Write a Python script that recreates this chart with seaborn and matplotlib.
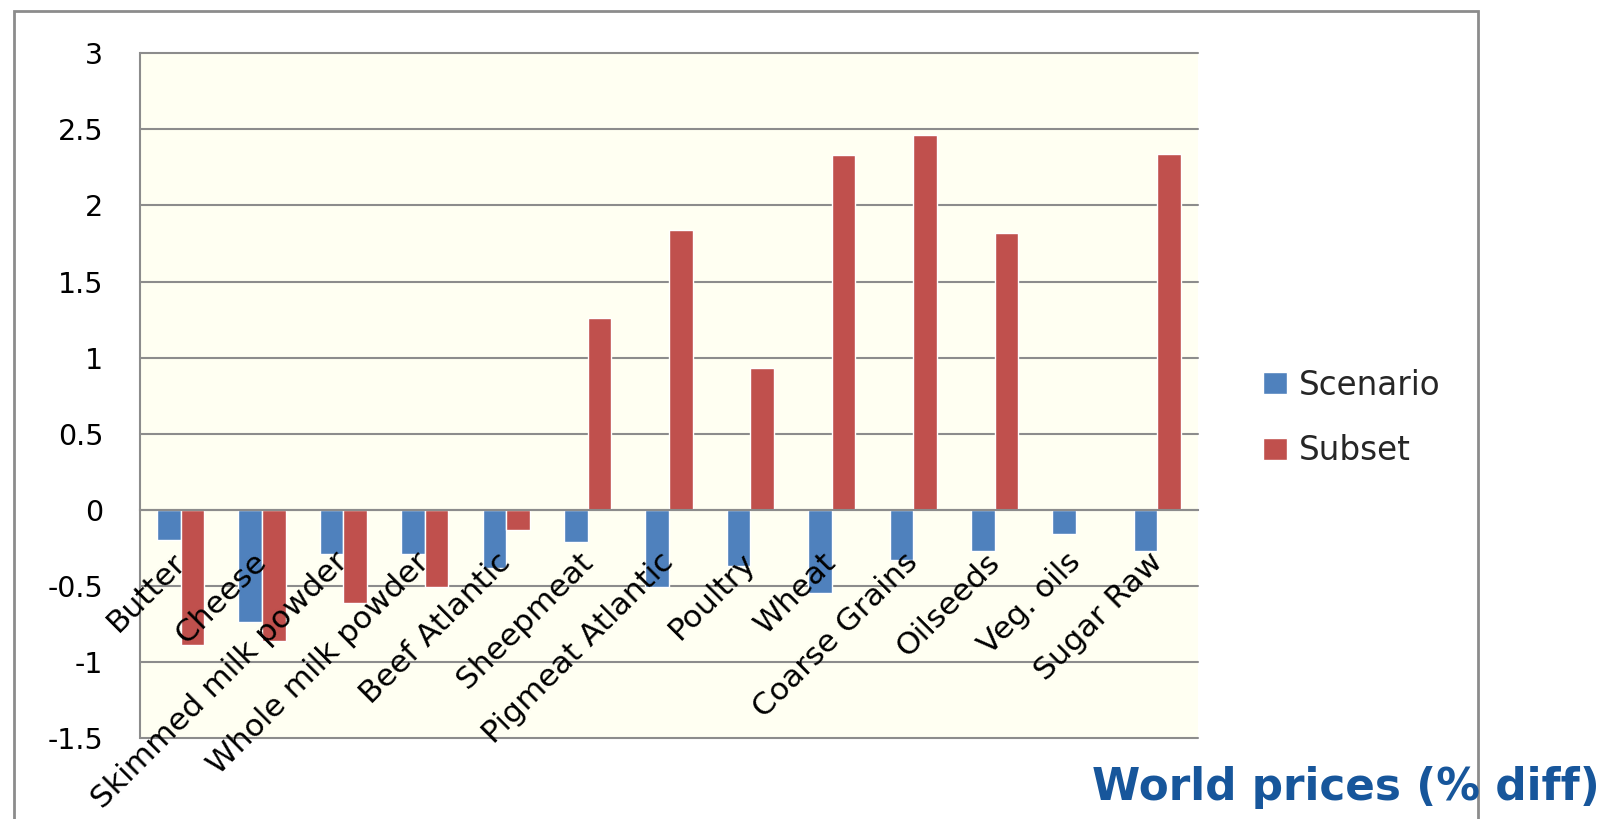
import numpy as np
import pandas as pd
import matplotlib
matplotlib.use("Agg")
import matplotlib.pyplot as plt
import seaborn as sns
from matplotlib.patches import Rectangle
from matplotlib.transforms import ScaledTranslation

# Commodities on the category axis
categories = ["Butter", "Cheese", "Skimmed milk powder", "Whole milk powder",
              "Beef Atlantic", "Sheepmeat", "Pigmeat Atlantic", "Poultry",
              "Wheat", "Coarse Grains", "Oilseeds", "Veg. oils", "Sugar Raw"]

# World price change (% diff) per series
scenario = [-0.20, -0.74, -0.29, -0.29, -0.38, -0.21, -0.51, -0.37,
            -0.55, -0.33, -0.27, -0.16, -0.27]
subset = [-0.89, -0.86, -0.61, -0.51, -0.13, 1.26, 1.84, 0.93,
          2.33, 2.46, 1.82, 0.0, 2.34]

series_names = ["Scenario", "Subset"]
y_ticks = [-1.5, -1.0, -0.5, 0.0, 0.5, 1.0, 1.5, 2.0, 2.5, 3.0]
y_tick_labels = ["-1.5", "-1", "-0.5", "0", "0.5", "1", "1.5", "2", "2.5", "3"]
title = "World prices (% diff)"

df = pd.DataFrame({
    "Commodity": categories * 2,
    "Series": [series_names[0]] * len(categories) + [series_names[1]] * len(categories),
    "Value": scenario + subset,
})

sns.set_style("white")
plt.rcParams["font.family"] = ["DejaVu Sans"]
plt.rcParams["axes.unicode_minus"] = False

W, H = 1609, 819
fig = plt.figure(figsize=(W / 100, H / 100), dpi=100)
ax = fig.add_axes([140 / W, 1 - 738 / H, (1198 - 140) / W, (738 - 53.3) / H])
ax.set_facecolor("#FFFFF2")

grey = "#8C8C8C"
palette = {"Scenario": "#4F81BD", "Subset": "#C0504D"}

sns.barplot(data=df, x="Commodity", y="Value", hue="Series",
            order=categories, hue_order=series_names, palette=palette,
            saturation=1, width=0.58, ax=ax, errorbar=None)

handles, labels = ax.get_legend_handles_labels()
if ax.get_legend() is not None:
    ax.get_legend().remove()

ax.set_xlim(-0.5, len(categories) - 0.5)
ax.set_ylim(-1.5, 3)
ax.set_yticks(y_ticks)
ax.set_yticklabels(y_tick_labels)
ax.set_xlabel("")
ax.set_ylabel("")

# Horizontal gridlines sit behind the bars; axis text stays on top
for yv in y_ticks:
    ax.axhline(yv, color=grey, lw=1.5, zorder=0.5, clip_on=False)
ax.set_axisbelow(False)

for side in ("top", "right"):
    ax.spines[side].set_visible(False)
ax.spines["left"].set_color(grey)
ax.spines["left"].set_linewidth(1.5)
ax.spines["bottom"].set_color(grey)
ax.spines["bottom"].set_linewidth(1.5)
ax.spines["bottom"].set_position(("data", 0))

ax.tick_params(axis="y", length=7.5, width=1.5, color=grey, pad=19,
               labelsize=20.5, labelcolor="black")
ax.tick_params(axis="x", which="major", length=0, pad=27, labelsize=22.5,
               labelcolor="black")
ax.set_xticks(np.arange(-0.5, len(categories)), minor=True)
ax.tick_params(axis="x", which="minor", length=8, width=1.5, color=grey,
               direction="out")

shift = ScaledTranslation(-10 / 100, 0, fig.dpi_scale_trans)
for lbl in ax.get_xticklabels():
    lbl.set_rotation(45)
    lbl.set_ha("right")
    lbl.set_va("top")
    lbl.set_rotation_mode("anchor")
    lbl.set_transform(lbl.get_transform() + shift)

# Legend to the right of the plot area
fig.legend(handles, labels, loc="center left",
           bbox_to_anchor=(1263 / W, 1 - 418 / H), frameon=False,
           fontsize=23.5, handlelength=0.75, handleheight=0.65,
           handletextpad=0.35, labelspacing=1.0, borderpad=0,
           borderaxespad=0)

# Chart frame
fig.patches.append(Rectangle((14 / W, -0.05), (1478 - 14) / W, 1 - 11 / H + 0.05,
                             transform=fig.transFigure, fill=False,
                             edgecolor=grey, lw=2))

fig.text(1600 / W, 1 - 800 / H, title, ha="right", va="baseline",
         fontsize=31.5, fontweight="bold", color="#17569B")

fig.savefig("out.png", dpi=100)
